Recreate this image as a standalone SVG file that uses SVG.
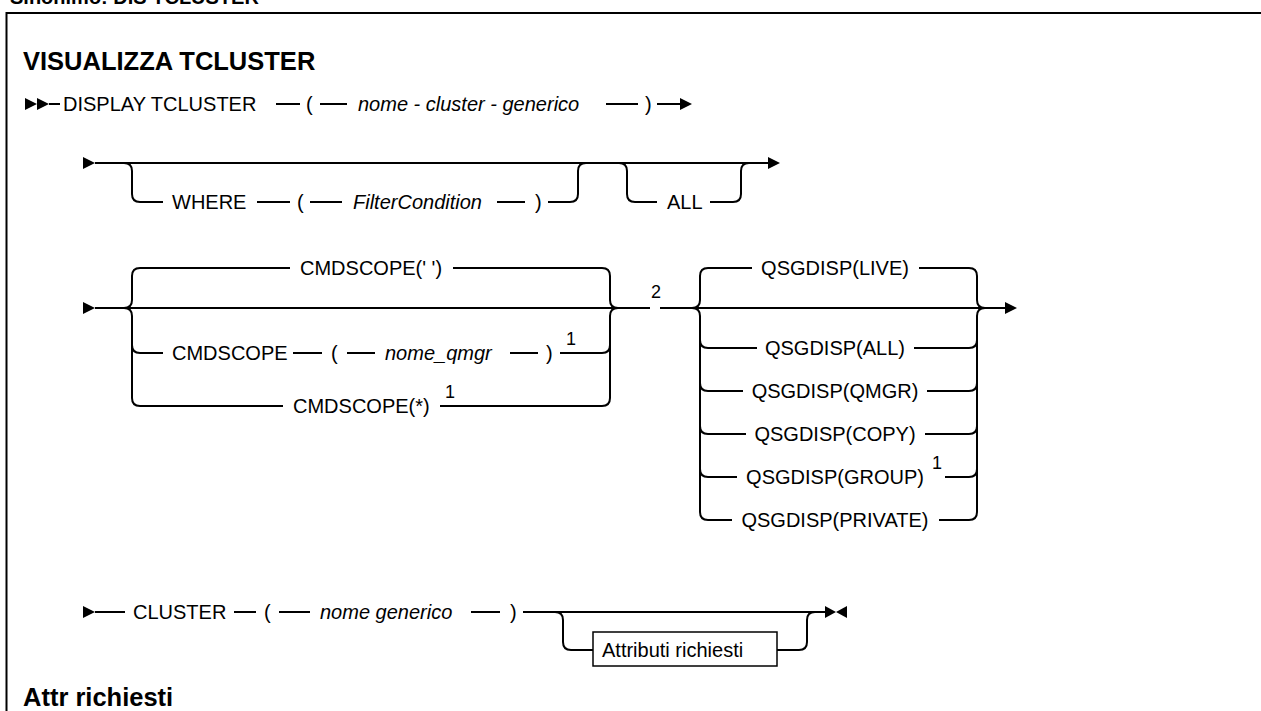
<svg xmlns="http://www.w3.org/2000/svg" width="1261" height="711" viewBox="0 0 1261 711">
<style>
.ln{fill:none;stroke:#000;stroke-width:2}
.bx{fill:#fff;stroke:#000;stroke-width:1.5}
.ah{fill:#000;stroke:none}
.t{font-family:"Liberation Sans",Arial,sans-serif;font-size:20px;fill:#000}
.i{font-style:italic}
.sup{font-family:"Liberation Sans",Arial,sans-serif;font-size:18px;fill:#000}
.h{font-family:"Liberation Sans",Arial,sans-serif;font-weight:bold;fill:#000}
</style>
<rect width="1261" height="711" fill="#fff"/>
<text class="h" x="10" y="4" font-size="20">Sinonimo: DIS TCLUSTER</text>
<path class="ln" d="M6.5,711 V13 H1261"/>
<text class="h" x="23" y="70" font-size="25.5">VISUALIZZA TCLUSTER</text>

<g id="connectors">
  <!-- row 1 -->
  <polygon class="ah" points="25,98 37,104 25,110"/>
  <polygon class="ah" points="37,98 49,104 37,110"/>
  <path class="ln" d="M49,104 H60 M276,104 H300 M320,104 H347 M606,104 H638 M657,104 H681"/>
  <polygon class="ah" points="680,98 692,104 680,110"/>
  <!-- row 2 -->
  <polygon class="ah" points="83,157 95,163 83,169"/>
  <path class="ln" d="M95,163 H769"/>
  <polygon class="ah" points="768,157 780,163 768,169"/>
  <path class="ln" d="M124,163 Q132,163 132,171 V194 Q132,202 140,202 H163 M257,202 H290 M310,202 H342 M497,202 H525 M548,202 H570 Q578,202 578,194 V171 Q578,163 586,163"/>
  <path class="ln" d="M619,163 Q627,163 627,171 V194 Q627,202 635,202 H657 M710,202 H733 Q741,202 741,194 V171 Q741,163 749,163"/>
  <!-- row 3 -->
  <polygon class="ah" points="83,302 95,308 83,314"/>
  <path class="ln" d="M95,308 H650 M660,308 H1006"/>
  <polygon class="ah" points="1005,302 1017,308 1005,314"/>
  <path class="ln" d="M124,308 Q132,308 132,300 V276 Q132,268 140,268 H290 M453,268 H602 Q610,268 610,276 V300 Q610,308 618,308"/>
  <path class="ln" d="M124,308 Q132,308 132,316 V398 Q132,406 140,406 H283 M132,345 Q132,353 140,353 H163 M293,353 H322 M347,353 H375 M510,353 H538 M560,353 H602 Q610,353 610,345 M440,406 H602 Q610,406 610,398 V316 Q610,308 618,308"/>
  <path class="ln" d="M692,308 Q700,308 700,300 V276 Q700,268 708,268 H752 M919,268 H969 Q977,268 977,276 V300 Q977,308 985,308"/>
  <path class="ln" d="M692,308 Q700,308 700,316 V512 Q700,520 708,520 H732 M700,340 Q700,348 708,348 H757 M700,383 Q700,391 708,391 H743 M700,426 Q700,434 708,434 H746 M700,469 Q700,477 708,477 H737"/>
  <path class="ln" d="M914,348 H969 Q977,348 977,340 M927,391 H969 Q977,391 977,383 M925,434 H969 Q977,434 977,426 M945,477 H969 Q977,477 977,469 M939,520 H969 Q977,520 977,512 V316 Q977,308 985,308"/>
  <!-- row 4 -->
  <polygon class="ah" points="83,606 95,612 83,618"/>
  <path class="ln" d="M95,612 H125 M234,612 H256 M279,612 H310 M471,612 H500 M523,612 H826"/>
  <path class="ln" d="M555,612 Q563,612 563,620 V642 Q563,650 571,650 H593 M777,650 H799 Q807,650 807,642 V620 Q807,612 815,612"/>
  <polygon class="ah" points="825,606 836,612 825,618"/>
  <polygon class="ah" points="847,606 836,612 847,618"/>
</g>

<g id="n-display"><text class="t" x="63" y="111">DISPLAY TCLUSTER</text><text class="t" x="306" y="111">(</text><text class="t i" x="358" y="111">nome - cluster - generico</text><text class="t" x="645" y="111">)</text></g>
<g id="n-where"><text class="t" x="172" y="209">WHERE</text><text class="t" x="297" y="209">(</text><text class="t i" x="353" y="209">FilterCondition</text><text class="t" x="535" y="209">)</text></g>
<g id="n-all"><text class="t" x="667" y="209">ALL</text></g>
<g id="n-cmd1"><text class="t" x="300" y="275">CMDSCOPE(' ')</text></g>
<g id="n-cmd2"><text class="t" x="172" y="360">CMDSCOPE</text><text class="t" x="331" y="360">(</text><text class="t i" x="385" y="360">nome_qmgr</text><text class="t" x="546" y="360">)</text><text class="sup" x="566" y="345">1</text></g>
<g id="n-cmd3"><text class="t" x="293" y="413">CMDSCOPE(*)</text><text class="sup" x="445" y="398">1</text></g>
<g id="n-note2"><text class="sup" x="651" y="298">2</text></g>
<g id="n-q-live"><text class="t" x="835" y="275" text-anchor="middle">QSGDISP(LIVE)</text></g>
<g id="n-q-all"><text class="t" x="835" y="355" text-anchor="middle">QSGDISP(ALL)</text></g>
<g id="n-q-qmgr"><text class="t" x="835" y="398" text-anchor="middle">QSGDISP(QMGR)</text></g>
<g id="n-q-copy"><text class="t" x="835" y="441" text-anchor="middle">QSGDISP(COPY)</text></g>
<g id="n-q-group"><text class="t" x="835" y="484" text-anchor="middle">QSGDISP(GROUP)</text><text class="sup" x="932" y="469">1</text></g>
<g id="n-q-private"><text class="t" x="835" y="527" text-anchor="middle">QSGDISP(PRIVATE)</text></g>
<g id="n-cluster"><text class="t" x="133" y="619">CLUSTER</text><text class="t" x="264" y="619">(</text><text class="t i" x="320" y="619">nome generico</text><text class="t" x="510" y="619">)</text></g>
<g id="n-attr"><rect class="bx" x="593" y="632" width="184" height="34"/><text class="t" x="602" y="657">Attributi richiesti</text></g>
<text class="h" x="23" y="706" font-size="25.5">Attr richiesti</text>
</svg>
